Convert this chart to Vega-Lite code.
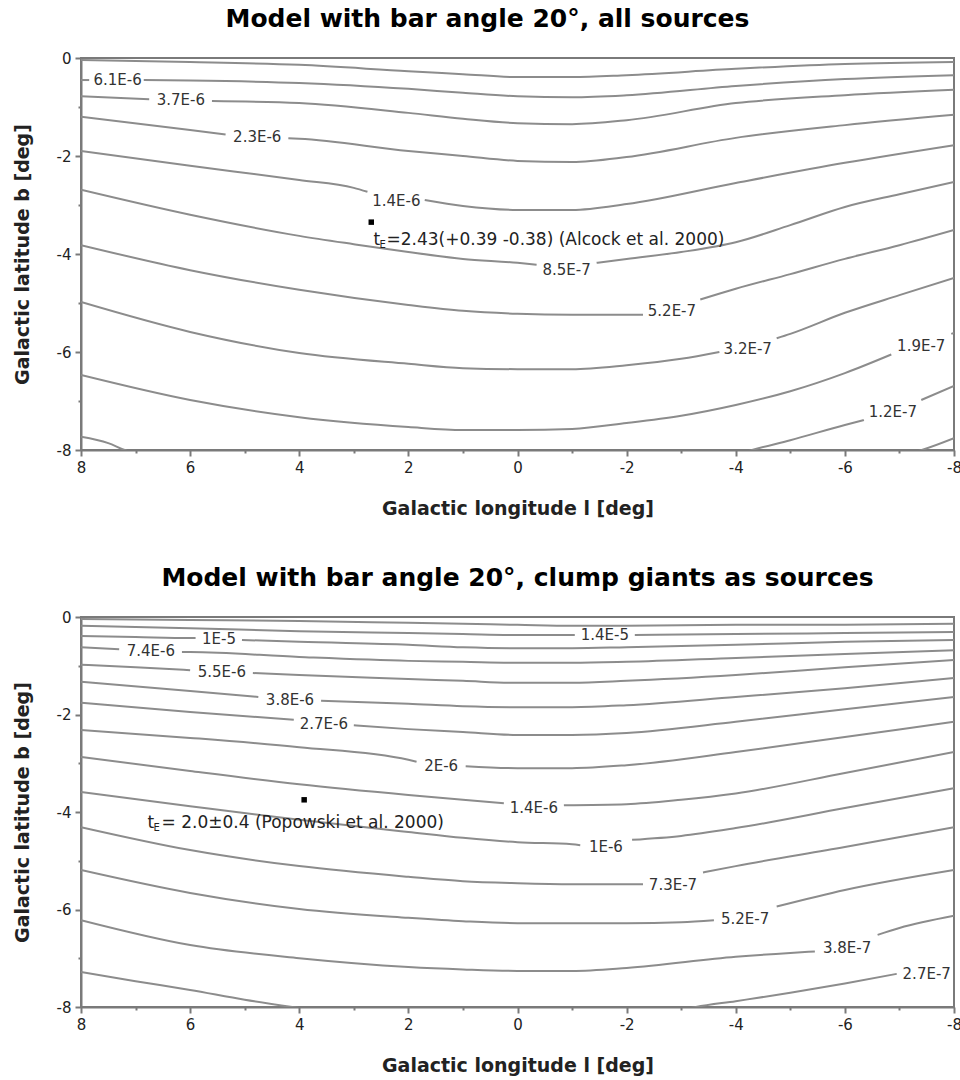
{
  "$schema": "https://vega.github.io/schema/vega-lite/v6.json",
  "padding": {"left": 12, "top": 6, "right": 5, "bottom": 5},
  "background": "white",
  "config": {
    "view": {"stroke": "#7a7a7a", "strokeWidth": 2},
    "font": "DejaVu Sans",
    "title": {"font": "DejaVu Sans", "fontSize": 25, "fontWeight": "bold", "color": "#000", "offset": 19, "anchor": "middle"},
    "axis": {"domainColor": "#7a7a7a", "domainWidth": 2, "tickColor": "#7a7a7a", "tickWidth": 2, "labelFont": "DejaVu Sans", "labelFontSize": 15, "labelColor": "#222", "titleFont": "DejaVu Sans", "titleFontSize": 19, "titleFontWeight": "bold", "titleColor": "#222", "grid": false, "labelOverlap": false, "labelFlush": false},
    "concat": {"spacing": 46}
  },
  "datasets": {
    "top_lines": [
      {"s":"C1","l":8,"b":-0.04},{"s":"C1","l":6,"b":-0.08},{"s":"C1","l":4,"b":-0.14},{"s":"C1","l":2,"b":-0.27},{"s":"C1","l":1,"b":-0.33},{"s":"C1","l":0,"b":-0.39},{"s":"C1","l":-1,"b":-0.39},{"s":"C1","l":-2,"b":-0.35},{"s":"C1","l":-4,"b":-0.22},{"s":"C1","l":-6,"b":-0.12},{"s":"C1","l":-8,"b":-0.08},
      {"s":"C2a","l":8,"b":-0.45},{"s":"C2a","l":7.85,"b":-0.45},
      {"s":"C2b","l":6.85,"b":-0.45},{"s":"C2b","l":6,"b":-0.46},{"s":"C2b","l":4,"b":-0.51},{"s":"C2b","l":2,"b":-0.63},{"s":"C2b","l":1,"b":-0.71},{"s":"C2b","l":0,"b":-0.78},{"s":"C2b","l":-1,"b":-0.8},{"s":"C2b","l":-2,"b":-0.76},{"s":"C2b","l":-4,"b":-0.57},{"s":"C2b","l":-6,"b":-0.43},{"s":"C2b","l":-8,"b":-0.35},
      {"s":"C3a","l":8,"b":-0.78},{"s":"C3a","l":6.75,"b":-0.84},
      {"s":"C3b","l":5.6,"b":-0.88},{"s":"C3b","l":4,"b":-0.92},{"s":"C3b","l":2,"b":-1.12},{"s":"C3b","l":1,"b":-1.24},{"s":"C3b","l":0,"b":-1.33},{"s":"C3b","l":-1,"b":-1.35},{"s":"C3b","l":-2,"b":-1.27},{"s":"C3b","l":-4,"b":-0.92},{"s":"C3b","l":-6,"b":-0.76},{"s":"C3b","l":-8,"b":-0.65},
      {"s":"C4a","l":8,"b":-1.2},{"s":"C4a","l":6,"b":-1.47},{"s":"C4a","l":5.35,"b":-1.56},
      {"s":"C4b","l":4.2,"b":-1.64},{"s":"C4b","l":4,"b":-1.65},{"s":"C4b","l":2,"b":-1.9},{"s":"C4b","l":1,"b":-2.0},{"s":"C4b","l":0,"b":-2.1},{"s":"C4b","l":-1,"b":-2.12},{"s":"C4b","l":-2,"b":-2.02},{"s":"C4b","l":-4,"b":-1.63},{"s":"C4b","l":-6,"b":-1.37},{"s":"C4b","l":-8,"b":-1.16},
      {"s":"C5a","l":8,"b":-1.9},{"s":"C5a","l":6,"b":-2.2},{"s":"C5a","l":4,"b":-2.49},{"s":"C5a","l":3,"b":-2.65},{"s":"C5a","l":2.75,"b":-2.73},
      {"s":"C5b","l":1.7,"b":-2.9},{"s":"C5b","l":1,"b":-3.02},{"s":"C5b","l":0,"b":-3.1},{"s":"C5b","l":-1,"b":-3.1},{"s":"C5b","l":-2,"b":-2.98},{"s":"C5b","l":-4,"b":-2.55},{"s":"C5b","l":-6,"b":-2.14},{"s":"C5b","l":-8,"b":-1.78},
      {"s":"C6a","l":8,"b":-2.69},{"s":"C6a","l":6,"b":-3.2},{"s":"C6a","l":4,"b":-3.63},{"s":"C6a","l":3,"b":-3.8},{"s":"C6a","l":2,"b":-3.96},{"s":"C6a","l":1,"b":-4.1},{"s":"C6a","l":0,"b":-4.18},{"s":"C6a","l":-0.35,"b":-4.22},
      {"s":"C6b","l":-1.45,"b":-4.18},{"s":"C6b","l":-2,"b":-4.1},{"s":"C6b","l":-3,"b":-3.96},{"s":"C6b","l":-4,"b":-3.76},{"s":"C6b","l":-5,"b":-3.41},{"s":"C6b","l":-6,"b":-3.04},{"s":"C6b","l":-7,"b":-2.78},{"s":"C6b","l":-8,"b":-2.53},
      {"s":"C7a","l":8,"b":-3.82},{"s":"C7a","l":6,"b":-4.33},{"s":"C7a","l":4,"b":-4.73},{"s":"C7a","l":2,"b":-5.04},{"s":"C7a","l":1,"b":-5.16},{"s":"C7a","l":0,"b":-5.22},{"s":"C7a","l":-1,"b":-5.24},{"s":"C7a","l":-2,"b":-5.24},{"s":"C7a","l":-2.3,"b":-5.24},
      {"s":"C7b","l":-3.35,"b":-4.93},{"s":"C7b","l":-4,"b":-4.71},{"s":"C7b","l":-5,"b":-4.41},{"s":"C7b","l":-6,"b":-4.1},{"s":"C7b","l":-7,"b":-3.82},{"s":"C7b","l":-8,"b":-3.51},
      {"s":"C8a","l":8,"b":-4.98},{"s":"C8a","l":6,"b":-5.59},{"s":"C8a","l":4,"b":-6.02},{"s":"C8a","l":2,"b":-6.24},{"s":"C8a","l":1,"b":-6.33},{"s":"C8a","l":0,"b":-6.35},{"s":"C8a","l":-1,"b":-6.35},{"s":"C8a","l":-2,"b":-6.27},{"s":"C8a","l":-3,"b":-6.14},{"s":"C8a","l":-3.7,"b":-6.0},
      {"s":"C8b","l":-4.75,"b":-5.72},{"s":"C8b","l":-5,"b":-5.63},{"s":"C8b","l":-6,"b":-5.2},{"s":"C8b","l":-7,"b":-4.84},{"s":"C8b","l":-8,"b":-4.49},
      {"s":"C9a","l":8,"b":-6.47},{"s":"C9a","l":6,"b":-6.98},{"s":"C9a","l":4,"b":-7.33},{"s":"C9a","l":2,"b":-7.53},{"s":"C9a","l":1,"b":-7.59},{"s":"C9a","l":0,"b":-7.59},{"s":"C9a","l":-1,"b":-7.57},{"s":"C9a","l":-2,"b":-7.45},{"s":"C9a","l":-3,"b":-7.3},{"s":"C9a","l":-4,"b":-7.08},{"s":"C9a","l":-5,"b":-6.8},{"s":"C9a","l":-6,"b":-6.43},{"s":"C9a","l":-6.85,"b":-6.05},
      {"s":"C9b","l":-7.95,"b":-5.63},{"s":"C9b","l":-8,"b":-5.61},
      {"s":"C10a","l":8,"b":-7.73},{"s":"C10a","l":7.5,"b":-7.86},{"s":"C10a","l":7.2,"b":-8.0},{"s":"C10a","l":6.8,"b":-8.12},
      {"s":"C10b","l":-4.0,"b":-8.1},{"s":"C10b","l":-4.3,"b":-8.0},{"s":"C10b","l":-5,"b":-7.8},{"s":"C10b","l":-6,"b":-7.49},{"s":"C10b","l":-6.35,"b":-7.39},
      {"s":"C10c","l":-7.4,"b":-6.98},{"s":"C10c","l":-8,"b":-6.69},
      {"s":"C11","l":-7.0,"b":-8.12},{"s":"C11","l":-7.41,"b":-8.0},{"s":"C11","l":-8,"b":-7.76}
    ],
    "top_labels": [
      {"l":7.33,"b":-0.45,"t":"6.1E-6"},
      {"l":6.17,"b":-0.86,"t":"3.7E-6"},
      {"l":4.77,"b":-1.62,"t":"2.3E-6"},
      {"l":2.22,"b":-2.92,"t":"1.4E-6"},
      {"l":-0.9,"b":-4.32,"t":"8.5E-7"},
      {"l":-2.83,"b":-5.17,"t":"5.2E-7"},
      {"l":-4.22,"b":-5.93,"t":"3.2E-7"},
      {"l":-7.4,"b":-5.88,"t":"1.9E-7"},
      {"l":-6.88,"b":-7.22,"t":"1.2E-7"}
    ],
    "top_points": [{"l":2.68,"b":-3.35}],
    "top_ann": [{"l":2.64,"b":-3.72,"main":"t","sub":"E","rest":"=2.43(+0.39 -0.38) (Alcock et al. 2000)"}],
    "bot_lines": [
      {"s":"B0","l":8,"b":-0.04},{"s":"B0","l":6,"b":-0.06},{"s":"B0","l":4,"b":-0.08},{"s":"B0","l":2,"b":-0.12},{"s":"B0","l":1,"b":-0.14},{"s":"B0","l":0,"b":-0.16},{"s":"B0","l":-1,"b":-0.18},{"s":"B0","l":-2,"b":-0.18},{"s":"B0","l":-4,"b":-0.16},{"s":"B0","l":-6,"b":-0.16},{"s":"B0","l":-8,"b":-0.14},
      {"s":"B1a","l":8,"b":-0.18},{"s":"B1a","l":6,"b":-0.23},{"s":"B1a","l":4,"b":-0.29},{"s":"B1a","l":2,"b":-0.33},{"s":"B1a","l":1,"b":-0.35},{"s":"B1a","l":0,"b":-0.37},{"s":"B1a","l":-1.05,"b":-0.37},
      {"s":"B1b","l":-2.15,"b":-0.37},{"s":"B1b","l":-4,"b":-0.35},{"s":"B1b","l":-6,"b":-0.33},{"s":"B1b","l":-8,"b":-0.31},
      {"s":"B2a","l":8,"b":-0.39},{"s":"B2a","l":7,"b":-0.41},{"s":"B2a","l":6,"b":-0.43},{"s":"B2a","l":5.9,"b":-0.43},
      {"s":"B2b","l":5.05,"b":-0.47},{"s":"B2b","l":4,"b":-0.51},{"s":"B2b","l":2,"b":-0.57},{"s":"B2b","l":1,"b":-0.62},{"s":"B2b","l":0,"b":-0.64},{"s":"B2b","l":-1,"b":-0.64},{"s":"B2b","l":-2,"b":-0.62},{"s":"B2b","l":-4,"b":-0.57},{"s":"B2b","l":-6,"b":-0.51},{"s":"B2b","l":-8,"b":-0.47},
      {"s":"B3a","l":8,"b":-0.62},{"s":"B3a","l":7.3,"b":-0.66},
      {"s":"B3b","l":6.15,"b":-0.72},{"s":"B3b","l":6,"b":-0.72},{"s":"B3b","l":4,"b":-0.82},{"s":"B3b","l":2,"b":-0.9},{"s":"B3b","l":1,"b":-0.92},{"s":"B3b","l":0,"b":-0.94},{"s":"B3b","l":-1,"b":-0.94},{"s":"B3b","l":-2,"b":-0.92},{"s":"B3b","l":-4,"b":-0.84},{"s":"B3b","l":-6,"b":-0.76},{"s":"B3b","l":-8,"b":-0.68},
      {"s":"B4a","l":8,"b":-0.98},{"s":"B4a","l":7,"b":-1.03},{"s":"B4a","l":6.0,"b":-1.09},
      {"s":"B4b","l":4.85,"b":-1.15},{"s":"B4b","l":4,"b":-1.19},{"s":"B4b","l":2,"b":-1.27},{"s":"B4b","l":1,"b":-1.31},{"s":"B4b","l":0,"b":-1.35},{"s":"B4b","l":-1,"b":-1.35},{"s":"B4b","l":-2,"b":-1.31},{"s":"B4b","l":-4,"b":-1.19},{"s":"B4b","l":-6,"b":-1.03},{"s":"B4b","l":-8,"b":-0.88},
      {"s":"B5a","l":8,"b":-1.33},{"s":"B5a","l":6,"b":-1.52},{"s":"B5a","l":4.75,"b":-1.64},
      {"s":"B5b","l":3.6,"b":-1.72},{"s":"B5b","l":2,"b":-1.78},{"s":"B5b","l":1,"b":-1.83},{"s":"B5b","l":0,"b":-1.85},{"s":"B5b","l":-1,"b":-1.85},{"s":"B5b","l":-2,"b":-1.81},{"s":"B5b","l":-4,"b":-1.64},{"s":"B5b","l":-6,"b":-1.46},{"s":"B5b","l":-8,"b":-1.25},
      {"s":"B6a","l":8,"b":-1.76},{"s":"B6a","l":6,"b":-1.95},{"s":"B6a","l":4.1,"b":-2.11},
      {"s":"B6b","l":3.0,"b":-2.22},{"s":"B6b","l":2,"b":-2.3},{"s":"B6b","l":1,"b":-2.36},{"s":"B6b","l":0,"b":-2.42},{"s":"B6b","l":-1,"b":-2.42},{"s":"B6b","l":-2,"b":-2.38},{"s":"B6b","l":-4,"b":-2.15},{"s":"B6b","l":-6,"b":-1.89},{"s":"B6b","l":-8,"b":-1.64},
      {"s":"B7a","l":8,"b":-2.32},{"s":"B7a","l":6,"b":-2.48},{"s":"B7a","l":4,"b":-2.67},{"s":"B7a","l":2,"b":-2.93},{"s":"B7a","l":1.85,"b":-2.97},
      {"s":"B7b","l":0.95,"b":-3.06},{"s":"B7b","l":0,"b":-3.1},{"s":"B7b","l":-1,"b":-3.1},{"s":"B7b","l":-2,"b":-3.04},{"s":"B7b","l":-4,"b":-2.77},{"s":"B7b","l":-6,"b":-2.46},{"s":"B7b","l":-8,"b":-2.15},
      {"s":"B8a","l":8,"b":-2.87},{"s":"B8a","l":6,"b":-3.16},{"s":"B8a","l":4,"b":-3.43},{"s":"B8a","l":2,"b":-3.65},{"s":"B8a","l":1,"b":-3.75},{"s":"B8a","l":0.25,"b":-3.82},
      {"s":"B8b","l":-0.85,"b":-3.86},{"s":"B8b","l":-2,"b":-3.84},{"s":"B8b","l":-3,"b":-3.75},{"s":"B8b","l":-4,"b":-3.62},{"s":"B8b","l":-6,"b":-3.2},{"s":"B8b","l":-8,"b":-2.77},
      {"s":"B9a","l":8,"b":-3.59},{"s":"B9a","l":6,"b":-3.88},{"s":"B9a","l":4,"b":-4.16},{"s":"B9a","l":2,"b":-4.41},{"s":"B9a","l":1,"b":-4.53},{"s":"B9a","l":0,"b":-4.62},{"s":"B9a","l":-1,"b":-4.66},{"s":"B9a","l":-1.15,"b":-4.68},
      {"s":"B9b","l":-2.1,"b":-4.57},{"s":"B9b","l":-3,"b":-4.49},{"s":"B9b","l":-4,"b":-4.33},{"s":"B9b","l":-6,"b":-3.92},{"s":"B9b","l":-8,"b":-3.51},
      {"s":"B10a","l":8,"b":-4.31},{"s":"B10a","l":6,"b":-4.78},{"s":"B10a","l":4,"b":-5.11},{"s":"B10a","l":2,"b":-5.33},{"s":"B10a","l":1,"b":-5.42},{"s":"B10a","l":0,"b":-5.46},{"s":"B10a","l":-1,"b":-5.48},{"s":"B10a","l":-2,"b":-5.48},{"s":"B10a","l":-2.3,"b":-5.48},
      {"s":"B10b","l":-3.4,"b":-5.24},{"s":"B10b","l":-4,"b":-5.11},{"s":"B10b","l":-6,"b":-4.72},{"s":"B10b","l":-8,"b":-4.31},
      {"s":"B11a","l":8,"b":-5.19},{"s":"B11a","l":6,"b":-5.66},{"s":"B11a","l":4,"b":-5.99},{"s":"B11a","l":2,"b":-6.17},{"s":"B11a","l":1,"b":-6.24},{"s":"B11a","l":0,"b":-6.28},{"s":"B11a","l":-1,"b":-6.28},{"s":"B11a","l":-2,"b":-6.28},{"s":"B11a","l":-3,"b":-6.26},{"s":"B11a","l":-3.6,"b":-6.22},
      {"s":"B11b","l":-4.75,"b":-5.94},{"s":"B11b","l":-6,"b":-5.6},{"s":"B11b","l":-8,"b":-5.19},
      {"s":"B12a","l":8,"b":-6.22},{"s":"B12a","l":6,"b":-6.73},{"s":"B12a","l":4,"b":-7.0},{"s":"B12a","l":2,"b":-7.18},{"s":"B12a","l":1,"b":-7.23},{"s":"B12a","l":0,"b":-7.26},{"s":"B12a","l":-1,"b":-7.26},{"s":"B12a","l":-2,"b":-7.2},{"s":"B12a","l":-4,"b":-6.97},{"s":"B12a","l":-5,"b":-6.89},{"s":"B12a","l":-5.45,"b":-6.86},
      {"s":"B12b","l":-6.6,"b":-6.52},{"s":"B12b","l":-7,"b":-6.38},{"s":"B12b","l":-8,"b":-6.13},
      {"s":"B13a","l":8,"b":-7.28},{"s":"B13a","l":7,"b":-7.47},{"s":"B13a","l":6,"b":-7.65},{"s":"B13a","l":5,"b":-7.85},{"s":"B13a","l":4.13,"b":-8.0},{"s":"B13a","l":3.5,"b":-8.1},
      {"s":"B13b","l":-3.0,"b":-8.06},{"s":"B13b","l":-3.27,"b":-8.0},{"s":"B13b","l":-4,"b":-7.88},{"s":"B13b","l":-5,"b":-7.71},{"s":"B13b","l":-6,"b":-7.52},{"s":"B13b","l":-6.95,"b":-7.32}
    ],
    "bot_labels": [
      {"l":-1.6,"b":-0.37,"t":"1.4E-5"},
      {"l":5.47,"b":-0.45,"t":"1E-5"},
      {"l":6.72,"b":-0.69,"t":"7.4E-6"},
      {"l":5.42,"b":-1.12,"t":"5.5E-6"},
      {"l":4.17,"b":-1.7,"t":"3.8E-6"},
      {"l":3.55,"b":-2.19,"t":"2.7E-6"},
      {"l":1.4,"b":-3.05,"t":"2E-6"},
      {"l":-0.3,"b":-3.92,"t":"1.4E-6"},
      {"l":-1.62,"b":-4.72,"t":"1E-6"},
      {"l":-2.85,"b":-5.5,"t":"7.3E-7"},
      {"l":-4.17,"b":-6.2,"t":"5.2E-7"},
      {"l":-6.04,"b":-6.78,"t":"3.8E-7"},
      {"l":-7.5,"b":-7.33,"t":"2.7E-7"}
    ],
    "bot_points": [{"l":3.91,"b":-3.75}],
    "bot_ann": [{"l":6.78,"b":-4.23,"main":"t","sub":"E","rest":"= 2.0±0.4 (Popowski et al. 2000)"}]
  },
  "vconcat": [
    {
      "title": {"text": "Model with bar angle 20°, all sources", "dx": -30},
      "width": 873,
      "height": 392,
      "layer": [
        {
          "data": {"name": "top_lines"},
          "mark": {"type": "line", "color": "#8c8c8c", "strokeWidth": 2, "interpolate": "monotone", "clip": true},
          "encoding": {
            "x": {"field": "l", "type": "quantitative", "title": "Galactic longitude l [deg]",
              "scale": {"domain": [-8, 8], "reverse": true, "nice": false, "zero": false},
              "axis": {"values": [-8,-7,-6,-5,-4,-3,-2,-1,0,1,2,3,4,5,6,7,8], "labelExpr": "datum.value % 2 === 0 ? '' + datum.value : ''", "tickSize": {"condition": {"test": "datum.value % 2 === 0", "value": 6}, "value": 3}, "labelPadding": 4, "titlePadding": 24}},
            "y": {"field": "b", "type": "quantitative", "title": "Galactic latitude b [deg]",
              "scale": {"domain": [-8, 0], "nice": false, "zero": false},
              "axis": {"values": [-8,-7,-6,-5,-4,-3,-2,-1,0], "labelExpr": "datum.value % 2 === 0 ? '' + datum.value : ''", "tickSize": {"condition": {"test": "datum.value % 2 === 0", "value": 6}, "value": 3}, "labelPadding": 4, "titlePadding": 24}},
            "detail": {"field": "s", "type": "nominal"}
          }
        },
        {
          "data": {"name": "top_labels"},
          "mark": {"type": "text", "fontSize": 15, "font": "DejaVu Sans", "color": "#333", "align": "center", "baseline": "middle"},
          "encoding": {"x": {"field": "l", "type": "quantitative"}, "y": {"field": "b", "type": "quantitative"}, "text": {"field": "t"}}
        },
        {
          "data": {"name": "top_points"},
          "mark": {"type": "square", "size": 30, "color": "#000", "opacity": 1},
          "encoding": {"x": {"field": "l", "type": "quantitative"}, "y": {"field": "b", "type": "quantitative"}}
        },
        {
          "data": {"name": "top_ann"},
          "mark": {"type": "text", "fontSize": 17, "font": "DejaVu Sans", "color": "#222", "align": "left", "baseline": "middle"},
          "encoding": {"x": {"field": "l", "type": "quantitative"}, "y": {"field": "b", "type": "quantitative"}, "text": {"field": "main"}}
        },
        {
          "data": {"name": "top_ann"},
          "mark": {"type": "text", "fontSize": 10, "font": "DejaVu Sans", "color": "#222", "align": "left", "baseline": "middle", "dx": 6, "dy": 5},
          "encoding": {"x": {"field": "l", "type": "quantitative"}, "y": {"field": "b", "type": "quantitative"}, "text": {"field": "sub"}}
        },
        {
          "data": {"name": "top_ann"},
          "mark": {"type": "text", "fontSize": 17, "font": "DejaVu Sans", "color": "#222", "align": "left", "baseline": "middle", "dx": 13},
          "encoding": {"x": {"field": "l", "type": "quantitative"}, "y": {"field": "b", "type": "quantitative"}, "text": {"field": "rest"}}
        }
      ]
    },
    {
      "title": {"text": "Model with bar angle 20°, clump giants as sources"},
      "width": 873,
      "height": 390,
      "layer": [
        {
          "data": {"name": "bot_lines"},
          "mark": {"type": "line", "color": "#8c8c8c", "strokeWidth": 2, "interpolate": "monotone", "clip": true},
          "encoding": {
            "x": {"field": "l", "type": "quantitative", "title": "Galactic longitude l [deg]",
              "scale": {"domain": [-8, 8], "reverse": true, "nice": false, "zero": false},
              "axis": {"values": [-8,-7,-6,-5,-4,-3,-2,-1,0,1,2,3,4,5,6,7,8], "labelExpr": "datum.value % 2 === 0 ? '' + datum.value : ''", "tickSize": {"condition": {"test": "datum.value % 2 === 0", "value": 6}, "value": 3}, "labelPadding": 4, "titlePadding": 24}},
            "y": {"field": "b", "type": "quantitative", "title": "Galactic latitude b [deg]",
              "scale": {"domain": [-8, 0], "nice": false, "zero": false},
              "axis": {"values": [-8,-7,-6,-5,-4,-3,-2,-1,0], "labelExpr": "datum.value % 2 === 0 ? '' + datum.value : ''", "tickSize": {"condition": {"test": "datum.value % 2 === 0", "value": 6}, "value": 3}, "labelPadding": 4, "titlePadding": 24}},
            "detail": {"field": "s", "type": "nominal"}
          }
        },
        {
          "data": {"name": "bot_labels"},
          "mark": {"type": "text", "fontSize": 15, "font": "DejaVu Sans", "color": "#333", "align": "center", "baseline": "middle"},
          "encoding": {"x": {"field": "l", "type": "quantitative"}, "y": {"field": "b", "type": "quantitative"}, "text": {"field": "t"}}
        },
        {
          "data": {"name": "bot_points"},
          "mark": {"type": "square", "size": 30, "color": "#000", "opacity": 1},
          "encoding": {"x": {"field": "l", "type": "quantitative"}, "y": {"field": "b", "type": "quantitative"}}
        },
        {
          "data": {"name": "bot_ann"},
          "mark": {"type": "text", "fontSize": 17, "font": "DejaVu Sans", "color": "#222", "align": "left", "baseline": "middle"},
          "encoding": {"x": {"field": "l", "type": "quantitative"}, "y": {"field": "b", "type": "quantitative"}, "text": {"field": "main"}}
        },
        {
          "data": {"name": "bot_ann"},
          "mark": {"type": "text", "fontSize": 10, "font": "DejaVu Sans", "color": "#222", "align": "left", "baseline": "middle", "dx": 6, "dy": 5},
          "encoding": {"x": {"field": "l", "type": "quantitative"}, "y": {"field": "b", "type": "quantitative"}, "text": {"field": "sub"}}
        },
        {
          "data": {"name": "bot_ann"},
          "mark": {"type": "text", "fontSize": 17, "font": "DejaVu Sans", "color": "#222", "align": "left", "baseline": "middle", "dx": 14},
          "encoding": {"x": {"field": "l", "type": "quantitative"}, "y": {"field": "b", "type": "quantitative"}, "text": {"field": "rest"}}
        }
      ]
    }
  ]
}
